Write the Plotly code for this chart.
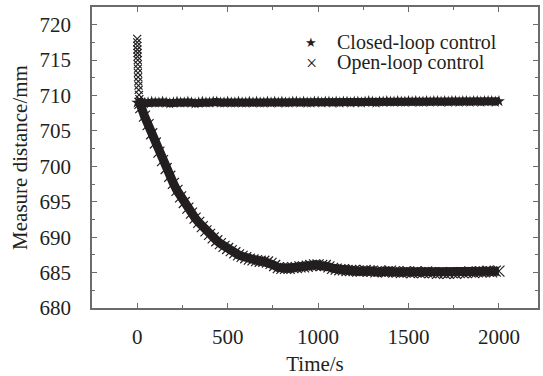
import plotly.graph_objects as go

# Closed-loop: sampled every 20 s from 0 to 2000 s
closed_t = list(range(0, 2001, 20))
closed_mm = [
    709.0, 709.1, 708.9, 709.0, 709.1, 709.0, 709.0, 709.1, 709.0, 708.9,
    709.0, 709.1, 709.0, 709.0, 709.1, 709.0, 708.9, 709.0, 709.1, 709.0,
    709.0, 709.1, 709.1, 709.0, 709.0, 709.1, 709.0, 709.0, 709.1, 709.0,
    709.0, 709.1, 709.0, 709.1, 709.0, 709.0, 709.1, 709.0, 709.1, 709.0,
    709.1, 709.0, 709.0, 709.1, 709.1, 709.0, 709.1, 709.0, 709.0, 709.1,
    709.1, 709.0, 709.1, 709.1, 709.0, 709.1, 709.0, 709.1, 709.1, 709.0,
    709.1, 709.1, 709.0, 709.1, 709.2, 709.1, 709.0, 709.1, 709.1, 709.2,
    709.1, 709.1, 709.2, 709.1, 709.1, 709.2, 709.1, 709.2, 709.1, 709.1,
    709.2, 709.1, 709.2, 709.2, 709.1, 709.2, 709.1, 709.2, 709.2, 709.1,
    709.2, 709.2, 709.1, 709.2, 709.2, 709.1, 709.2, 709.2, 709.2, 709.1,
    709.2,
]

# Open-loop start-up transient (first seconds)
startup_t = [0, 0, 1, 1, 2, 2, 3, 3, 4, 4, 5, 6, 7, 8, 10, 12]
startup_mm = [
    718.0, 717.5, 717.0, 716.5, 716.0, 715.5, 715.0, 714.4, 713.8, 713.2,
    712.6, 712.0, 711.4, 710.8, 710.1, 709.5,
]

# Open-loop settling, then every 20 s
open_t = [15] + list(range(20, 2001, 20))
open_mm = [
    708.9,
    708.3, 707.1, 705.9, 704.6, 703.3, 702.0, 700.8, 699.7, 698.6, 697.6,
    696.6, 695.7, 694.9, 694.1, 693.4, 692.7, 692.1, 691.5, 690.9, 690.4,
    689.9, 689.5, 689.1, 688.7, 688.4, 688.1, 687.8, 687.5, 687.3, 687.1,
    686.9, 686.8, 686.7, 686.6, 686.6, 686.5, 686.3, 686.0, 685.7, 685.6,
    685.6, 685.6, 685.7, 685.7, 685.8, 685.8, 685.9, 686.0, 686.1, 686.1,
    686.0, 686.0, 685.8, 685.6, 685.5, 685.4, 685.4, 685.3, 685.3, 685.3,
    685.2, 685.2, 685.3, 685.2, 685.2, 685.1, 685.2, 685.1, 685.1, 685.2,
    685.1, 685.1, 685.0, 685.1, 685.1, 685.0, 685.1, 685.0, 685.0, 685.1,
    685.0, 685.0, 684.9, 685.0, 684.9, 684.9, 685.0, 684.9, 685.0, 685.0,
    685.0, 685.1, 685.0, 685.1, 685.1, 685.1, 685.2, 685.1, 685.2, 685.2,
]

x_ticks = [0, 500, 1000, 1500, 2000]
y_ticks = [680, 685, 690, 695, 700, 705, 710, 715, 720]

INK = "#231f20"
AXIS = "#6b6b6b"
FONT = "Liberation Serif"

fig = go.Figure()
fig.add_trace(go.Scatter(
    x=open_t, y=open_mm, mode="lines+markers", name="Open-loop control",
    line=dict(color=INK, width=9),
    marker=dict(symbol="x-thin", size=11, line=dict(width=1.2, color=INK), color=INK),
))
fig.add_trace(go.Scatter(
    x=startup_t, y=startup_mm, mode="markers", name="Open-loop control",
    marker=dict(symbol="x-thin", size=8, line=dict(width=1.2, color=INK), color=INK),
))
fig.add_trace(go.Scatter(
    x=closed_t, y=closed_mm, mode="lines+markers", name="Closed-loop control",
    line=dict(color=INK, width=8),
    marker=dict(symbol="star", size=9, color=INK, line=dict(width=0)),
))

axis_common = dict(
    showline=True, linecolor=AXIS, linewidth=1.5, mirror="allticks",
    ticks="inside", ticklen=5, tickwidth=1, tickcolor=AXIS,
    showgrid=False, zeroline=False,
    tickfont=dict(family=FONT, size=21, color=INK),
    title_font=dict(family=FONT, size=21, color=INK),
)

fig.update_xaxes(
    range=[-250, 2216], tickvals=x_ticks, ticktext=[str(v) for v in x_ticks],
    minor=dict(ticks="inside", ticklen=3, tickcolor=AXIS, dtick=250, tick0=0),
    title_text="Time/s", title_standoff=9, ticklabelstandoff=9,
    **axis_common,
)
fig.update_yaxes(
    range=[680, 722.5], tickvals=y_ticks, ticktext=[str(v) for v in y_ticks],
    minor=dict(ticks="inside", ticklen=3, tickcolor=AXIS, dtick=2.5, tick0=680),
    title_text="Measure distance/mm", title_standoff=6, ticklabelstandoff=15,
    **axis_common,
)

# Key drawn as text next to its symbol glyphs
legend_rows = [("★", "Closed-loop control", 0.882, 13), ("×", "Open-loop control", 0.815, 20)]
for sym, label, yy, ssize in legend_rows:
    fig.add_annotation(x=0.492, y=yy, xref="paper", yref="paper", text=sym,
                       showarrow=False, xanchor="center", yanchor="middle", borderpad=0,
                       font=dict(family=FONT if sym == "×" else "DejaVu Sans", size=ssize, color=INK))
    fig.add_annotation(x=0.547, y=yy, xref="paper", yref="paper", text=label,
                       showarrow=False, xanchor="left", yanchor="middle", borderpad=0,
                       font=dict(family=FONT, size=20, color=INK))

fig.update_layout(
    width=543, height=376,
    margin=dict(l=92, r=3, t=7, b=68),
    showlegend=False,
    paper_bgcolor="white", plot_bgcolor="white",
)

fig.write_html("out.html")
